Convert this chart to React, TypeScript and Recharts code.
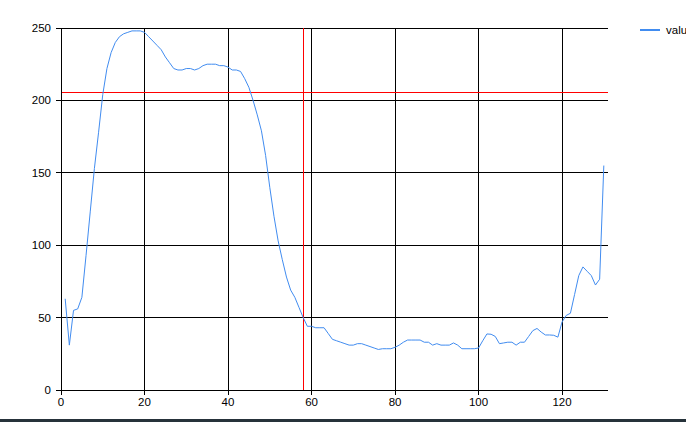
import { LineChart, Line, XAxis, YAxis, CartesianGrid, ReferenceLine } from "recharts";

// sample values, one per step starting at x = 1
const values = [
  63, 31, 55, 56, 64, 93, 123, 153, 178, 204,
  222, 233, 240, 244, 246, 247, 248, 248, 248, 247,
  244, 241, 238, 235, 230, 226, 222, 221, 221, 222,
  222, 221, 222, 224, 225, 225, 225, 224, 224, 223,
  221, 221, 220, 215, 209, 200, 190, 179, 162, 140,
  120, 103, 90, 78, 69, 64, 57, 50, 44, 44,
  43, 43, 43, 39, 35, 34, 33, 32, 31, 31,
  32, 32, 31, 30, 29, 28, 28.5, 28.5, 28.5, 29.5,
  31, 33, 34.5, 34.5, 34.5, 34.5, 33, 33, 31, 32,
  31, 31, 31, 32.5, 31, 28.5, 28.5, 28.5, 28.5, 29,
  34, 38.7, 38.5, 37, 32, 32.5, 33, 33, 31, 33,
  33, 37, 41, 42.5, 40, 38, 38, 37.8, 36.5, 47,
  51.5, 53, 66, 79, 85, 82, 79, 72.5, 76.5, 155,
];

const xTicks = [0, 20, 40, 60, 80, 100, 120];
const yTicks = [0, 50, 100, 150, 200, 250];
const thresholdY = 205.5;
const markerX = 58;
const seriesName = "value";

const data = values.map((v, i) => ({ x: i + 1, value: v }));

const font = "Liberation Sans, Arial, sans-serif";
const tickStyle = { fill: "#000", fontSize: 11.5, fontFamily: font };

export default function App() {
  return (
    <div style={{ position: "fixed", left: 0, top: 0, width: 686, height: 422, overflow: "hidden", background: "#fff" }}>
      <LineChart width={686} height={422} data={data} margin={{ top: 28, right: 78, left: 0, bottom: 12 }}>
        <CartesianGrid
          stroke="#000"
          strokeWidth={1}
          shapeRendering="crispEdges"
          verticalValues={xTicks}
          horizontalValues={yTicks}
        />
        <XAxis
          dataKey="x"
          type="number"
          domain={[0, 131]}
          ticks={xTicks}
          allowDataOverflow
          height={20}
          tickSize={5}
          tickMargin={3}
          stroke="#000"
          shapeRendering="crispEdges"
          tick={tickStyle}
        />
        <YAxis
          type="number"
          domain={[0, 250]}
          ticks={yTicks}
          width={61}
          tickSize={5}
          tickMargin={5}
          stroke="#000"
          shapeRendering="crispEdges"
          tick={tickStyle}
        />
        <ReferenceLine y={thresholdY} stroke="#ff0000" strokeWidth={1} shapeRendering="crispEdges" />
        <ReferenceLine x={markerX} stroke="#ff0000" strokeWidth={1} shapeRendering="crispEdges" />
        <Line
          dataKey="value"
          name={seriesName}
          stroke="#418CF0"
          strokeWidth={1}
          dot={false}
          isAnimationActive={false}
        />
      </LineChart>
      {/* legend sits at the top right, clipped by the frame like the original */}
      <div style={{ position: "absolute", left: 640, top: 24, display: "flex", alignItems: "center", fontFamily: font, fontSize: 11.5, whiteSpace: "nowrap" }}>
        <span style={{ display: "inline-block", width: 20, height: 2, background: "#418CF0", marginRight: 6 }} />
        <span>{seriesName}</span>
      </div>
      <div style={{ position: "absolute", left: 0, top: 419, width: 686, height: 3, background: "#26323a" }} />
    </div>
  );
}
